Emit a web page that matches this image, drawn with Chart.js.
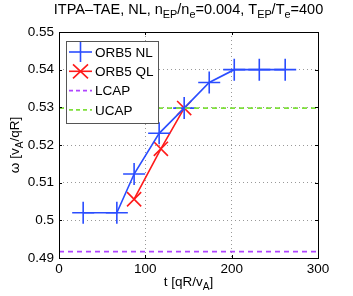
<!DOCTYPE html>
<html>
<head>
<meta charset="utf-8">
<script src="https://cdn.jsdelivr.net/npm/chart.js@4"></script>
<style>
  html, body { margin: 0; padding: 0; background: #fff; }
  #wrap { width: 353px; height: 296px; }
</style>
</head>
<body>
<div id="wrap"><canvas id="c" width="353" height="296"></canvas></div>
<script>
// data
const nlTime = [28, 67, 87, 116, 145, 174, 203, 232, 262];
const nlOmega = [0.502, 0.502, 0.5123, 0.5231, 0.5298, 0.5366, 0.540, 0.540, 0.540];
const qlTime = [87, 118, 145];
const qlOmega = [0.5056, 0.519, 0.5298];
const capTime = [0, 300];
const lcapOmega = [0.4917, 0.4917];
const ucapOmega = [0.5298, 0.5298];
const xTicks = [0, 100, 200, 300];
const yTicks = [0.49, 0.5, 0.51, 0.52, 0.53, 0.54, 0.55];

const FONT = '"Liberation Sans", Arial, sans-serif';
const BLUE = '#2a4dff';
const RED = '#ff1a1a';
const PURPLE = '#b044ff';
const GREEN = '#7ee03a';

function pts(xs, ys) {
    return xs.map((x, i) => ({ x: x, y: ys[i] }));
}

// draws text with subscripts, parts = [[text, isSub], ...]
function drawRich(ctx, parts, x, y, size, align) {
    const sub = size * 0.75;
    let w = 0;
    parts.forEach(p => {
        ctx.font = (p[1] ? sub : size) + 'px ' + FONT;
        w += ctx.measureText(p[0]).width;
    });
    let cx = align === 'center' ? x - w / 2 : x;
    ctx.textAlign = 'left';
    ctx.textBaseline = 'alphabetic';
    parts.forEach(p => {
        ctx.font = (p[1] ? sub : size) + 'px ' + FONT;
        ctx.fillText(p[0], cx, p[1] ? y + size * 0.3 : y);
        cx += ctx.measureText(p[0]).width;
    });
}

const decor = {
    id: 'decor',
    afterDraw(chart) {
        const ctx = chart.ctx;
        const a = chart.chartArea;
        const xs = chart.scales.x, ys = chart.scales.y;
        ctx.save();
        ctx.fillStyle = '#000';

        // title
        drawRich(ctx, [['ITPA\u2013TAE, NL, n', 0], ['EP', 1], ['/n', 0], ['e', 1],
            ['=0.004, T', 0], ['EP', 1], ['/T', 0], ['e', 1], ['=400', 0]],
            (a.left + a.right) / 2, 14, 14.5, 'center');

        // axis titles
        drawRich(ctx, [['t [qR/v', 0], ['A', 1], [']', 0]], (a.left + a.right) / 2, 286, 13.5, 'center');
        ctx.save();
        ctx.translate(19, (a.top + a.bottom) / 2);
        ctx.rotate(-Math.PI / 2);
        drawRich(ctx, [['\u03c9 [v', 0], ['A', 1], ['/qR]', 0]], 0, 0, 13.5, 'center');
        ctx.restore();

        // box and inward ticks
        ctx.strokeStyle = '#000';
        ctx.lineWidth = 1;
        ctx.strokeRect(a.left + 0.5, a.top + 0.5, a.right - a.left, a.bottom - a.top);
        ctx.beginPath();
        xTicks.forEach(t => {
            const px = Math.round(xs.getPixelForValue(t)) + 0.5;
            ctx.moveTo(px, a.bottom); ctx.lineTo(px, a.bottom - 3);
            ctx.moveTo(px, a.top); ctx.lineTo(px, a.top + 3);
        });
        yTicks.forEach(t => {
            const py = Math.round(ys.getPixelForValue(t)) + 0.5;
            ctx.moveTo(a.left, py); ctx.lineTo(a.left + 3, py);
            ctx.moveTo(a.right, py); ctx.lineTo(a.right - 3, py);
        });
        ctx.stroke();

        // legend box
        const lx = 66, ly = 41, lw = 92, lh = 82;
        ctx.fillStyle = '#fff';
        ctx.fillRect(lx, ly, lw, lh);
        ctx.strokeStyle = '#555';
        ctx.strokeRect(lx + 0.5, ly + 0.5, lw, lh);
        const rows = [
            { label: 'ORB5 NL', color: BLUE, mark: 'plus', dash: [] },
            { label: 'ORB5 QL', color: RED, mark: 'x', dash: [] },
            { label: 'LCAP', color: PURPLE, mark: null, dash: [4, 3] },
            { label: 'UCAP', color: GREEN, mark: null, dash: [4, 3] }
        ];
        rows.forEach((r, i) => {
            const cy = 52 + i * 19.3;
            ctx.strokeStyle = r.color;
            ctx.lineWidth = 1.6;
            ctx.setLineDash(r.dash);
            ctx.beginPath();
            ctx.moveTo(69, cy); ctx.lineTo(92, cy);
            ctx.stroke();
            ctx.setLineDash([]);
            ctx.beginPath();
            if (r.mark === 'plus') {
                ctx.moveTo(80.5, cy - 10); ctx.lineTo(80.5, cy + 10);
            } else if (r.mark === 'x') {
                ctx.moveTo(73, cy - 7); ctx.lineTo(88, cy + 7);
                ctx.moveTo(73, cy + 7); ctx.lineTo(88, cy - 7);
            }
            ctx.stroke();
            ctx.fillStyle = '#000';
            ctx.font = '13.5px ' + FONT;
            ctx.textAlign = 'left';
            ctx.textBaseline = 'middle';
            ctx.fillText(r.label, 95, cy + 1);
        });
        ctx.restore();
    }
};

new Chart(document.getElementById('c'), {
    type: 'line',
    data: {
        datasets: [
            {
                label: 'ORB5 NL',
                data: pts(nlTime, nlOmega),
                borderColor: BLUE,
                backgroundColor: BLUE,
                borderWidth: 1.6,
                pointStyle: 'cross',
                pointRadius: 11,
                pointBorderWidth: 1.6,
                order: 1
            },
            {
                label: 'ORB5 QL',
                data: pts(qlTime, qlOmega),
                borderColor: RED,
                backgroundColor: RED,
                borderWidth: 1.6,
                pointStyle: 'crossRot',
                pointRadius: 10,
                pointBorderWidth: 1.6,
                order: 2
            },
            {
                label: 'LCAP',
                data: pts(capTime, lcapOmega),
                borderColor: PURPLE,
                borderWidth: 1.6,
                borderDash: [5, 4],
                pointRadius: 0,
                order: 3
            },
            {
                label: 'UCAP',
                data: pts(capTime, ucapOmega),
                borderColor: GREEN,
                borderWidth: 1.6,
                borderDash: [5, 4],
                pointRadius: 0,
                order: 0
            }
        ]
    },
    options: {
        responsive: false,
        animation: false,
        layout: { padding: { top: 32, right: 35, left: 0, bottom: 0 } },
        plugins: {
            legend: { display: false },
            tooltip: { enabled: false }
        },
        scales: {
            x: {
                type: 'linear',
                min: 0,
                max: 300,
                afterBuildTicks: s => { s.ticks = xTicks.map(v => ({ value: v })); },
                afterFit: s => { s.height = 38; },
                ticks: { color: '#000', font: { family: FONT, size: 13.5 }, padding: 3, maxRotation: 0 },
                grid: { color: '#999', tickLength: 0, drawTicks: false },
                border: { display: false, dash: [1, 3] }
            },
            y: {
                min: 0.49,
                max: 0.55,
                afterBuildTicks: s => { s.ticks = yTicks.map(v => ({ value: v })); },
                afterFit: s => { s.width = 59; },
                ticks: {
                    color: '#000', font: { family: FONT, size: 13.5 }, padding: 5,
                    callback: v => String(parseFloat(v.toFixed(2)))
                },
                grid: { color: '#999', tickLength: 0, drawTicks: false },
                border: { display: false, dash: [1, 3] }
            }
        }
    },
    plugins: [decor]
});
</script>
</body>
</html>
